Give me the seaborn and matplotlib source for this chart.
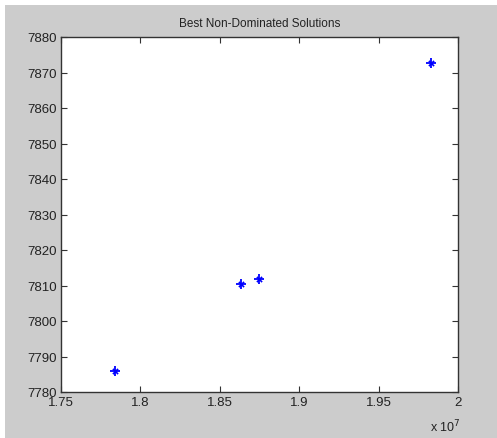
import matplotlib
matplotlib.use("Agg")
import matplotlib.pyplot as plt
import seaborn as sns
import pandas as pd

# objective values of the non-dominated solutions
cost = [1.784e7, 1.8635e7, 1.875e7, 1.983e7]
obj2 = [7785.8, 7810.4, 7811.9, 7872.6]

xticks = [1.75e7, 1.8e7, 1.85e7, 1.9e7, 1.95e7, 2.0e7]
xtick_labels = ["1.75", "1.8", "1.85", "1.9", "1.95", "2"]
yticks = [7780, 7790, 7800, 7810, 7820, 7830, 7840, 7850, 7860, 7870, 7880]

df = pd.DataFrame({"cost": cost, "obj2": obj2})

sns.set_style("white")
plt.rcParams["font.family"] = ["Liberation Sans", "DejaVu Sans"]

fig = plt.figure(figsize=(4.97, 4.39), dpi=100)
fig.patch.set_facecolor("white")
# grey matlab-like window background
bg = plt.Rectangle((5 / 497, 0), 1, (439 - 6) / 439, transform=fig.transFigure,
                   facecolor="#cccccc", edgecolor="none", zorder=-5)
fig.patches.append(bg)

ax = fig.add_axes([61 / 497, 46 / 439, 397 / 497, 355 / 439])
ax.set_zorder(2)
ax.set_facecolor("white")

# matlab '*' marker: a plus with short diagonals
sns.scatterplot(data=df, x="cost", y="obj2", ax=ax, marker="+", s=55,
                color="#0000ff", linewidth=1.3, zorder=3)
sns.scatterplot(data=df, x="cost", y="obj2", ax=ax, marker="x", s=14,
                color="#0000ff", linewidth=1.2, zorder=3)

ax.set_xlim(1.75e7, 2.0e7)
ax.set_ylim(7780, 7880)
ax.set_xticks(xticks)
ax.set_xticklabels(xtick_labels)
ax.set_yticks(yticks)
ax.set_yticklabels([str(v) for v in yticks])
ax.set_xlabel("")
ax.set_ylabel("")

ax.tick_params(direction="in", length=4, width=0.8, color="#333333",
               labelsize=9.5, labelcolor="#222222", top=True, right=True,
               bottom=True, left=True, pad=3)
for s in ax.spines.values():
    s.set_visible(True)
    s.set_color("#333333")
    s.set_linewidth(1.0)

ax.set_title("Best Non-Dominated Solutions", fontsize=8.5, color="#222222", pad=8)
ax.text(0.93, -0.095, "x 10$^{7}$", transform=ax.transAxes, fontsize=9,
        color="#222222", ha="left", va="center")

fig.savefig("out.png", dpi=100, facecolor=fig.get_facecolor())
